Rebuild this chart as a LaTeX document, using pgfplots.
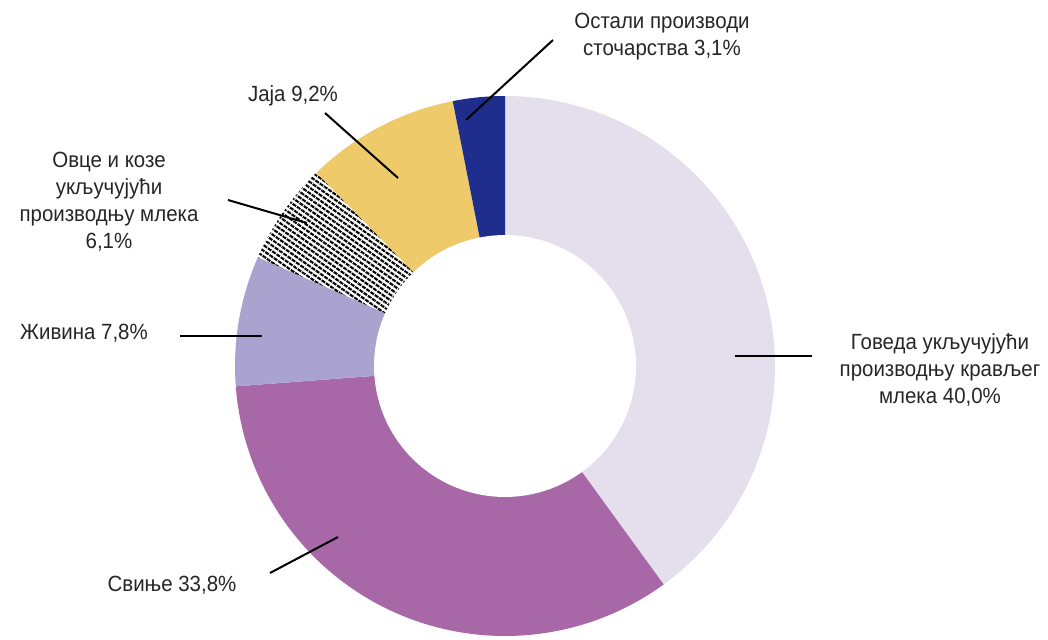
\documentclass[border=0pt]{standalone}
\usepackage{pgfplots}
\pgfplotsset{compat=1.18}
\usepackage{fontspec}
\setmainfont{Liberation Sans}[FakeStretch=0.93]
\usetikzlibrary{patterns.meta}
\definecolor{cGov}{HTML}{E5DEED}
\definecolor{cSvi}{HTML}{A868A8}
\definecolor{cZiv}{HTML}{AAA3CF}
\definecolor{cJaj}{HTML}{EECA6B}
\definecolor{cOst}{HTML}{1F2E8C}
\definecolor{txt}{HTML}{262626}
\def\cum{0}
\newcommand\slice[2]{%
  \pgfmathsetmacro\sa{90-3.6*\cum}%
  \pgfmathsetmacro\cumnew{\cum+#1}%
  \pgfmathsetmacro\sb{90-3.6*\cumnew}%
  \global\let\cum\cumnew
  \edef\doslice{\noexpand\addplot[draw=none,#2,domain=\sb:\sa,samples=80]
    ({505+270*cos(x)},{273+270*sin(x)}) -- (axis cs:505,273) -- cycle;}%
  \doslice}
\begin{document}
\begin{tikzpicture}
\begin{axis}[
  width=524pt, height=319.5pt, scale only axis,
  xmin=0, xmax=1048, ymin=0, ymax=639,
  hide axis, clip=false,
]
% values in percent, clockwise from the top
\slice{40.0}{fill=cGov}
\slice{33.8}{fill=cSvi}
\slice{7.8}{fill=cZiv}
\xdef\cumsave{\cum}
\slice{6.1}{pattern={Lines[angle=-35,distance=2.3pt,line width=1.05pt]},pattern color=black}
\global\let\cum\cumsave
\slice{6.1}{pattern={Lines[angle=55,distance=2.6pt,line width=0.4pt]},pattern color=white}
\slice{9.2}{fill=cJaj}
\slice{3.1}{fill=cOst}
\addplot[draw=none,fill=white,domain=0:360,samples=120]
  ({505+131*cos(x)},{273+131*sin(x)}) -- cycle;
% leader lines
\draw[line width=1pt,black] (axis cs:553,599) -- (axis cs:466,519);
\draw[line width=1pt,black] (axis cs:325,526) -- (axis cs:398,461);
\draw[line width=1pt,black] (axis cs:228,439) -- (axis cs:307,416);
\draw[line width=1pt,black] (axis cs:180,303) -- (axis cs:262,303);
\draw[line width=1pt,black] (axis cs:270,66) -- (axis cs:338,102);
\draw[line width=1pt,black] (axis cs:735,283) -- (axis cs:812,283);
% labels
\begin{scope}[every node/.style={font=\fontsize{11}{13.5}\selectfont, text=txt, align=center, inner sep=0pt}]
\node at (axis cs:662,602) {Остали производи\\сточарства 3,1\%};
\node at (axis cs:293,543) {Јаја 9,2\%};
\node at (axis cs:109,437) {Овце и козе\\укључујући\\производњу млека\\6,1\%};
\node at (axis cs:84,306) {Живина 7,8\%};
\node at (axis cs:172,54) {Свиње 33,8\%};
\node at (axis cs:940,269) {Говеда укључујући\\производњу крављег\\млека 40,0\%};
\end{scope}
\end{axis}
\pgfresetboundingbox
\path[use as bounding box] (current axis.south west) rectangle (current axis.north east);
\end{tikzpicture}
\end{document}
